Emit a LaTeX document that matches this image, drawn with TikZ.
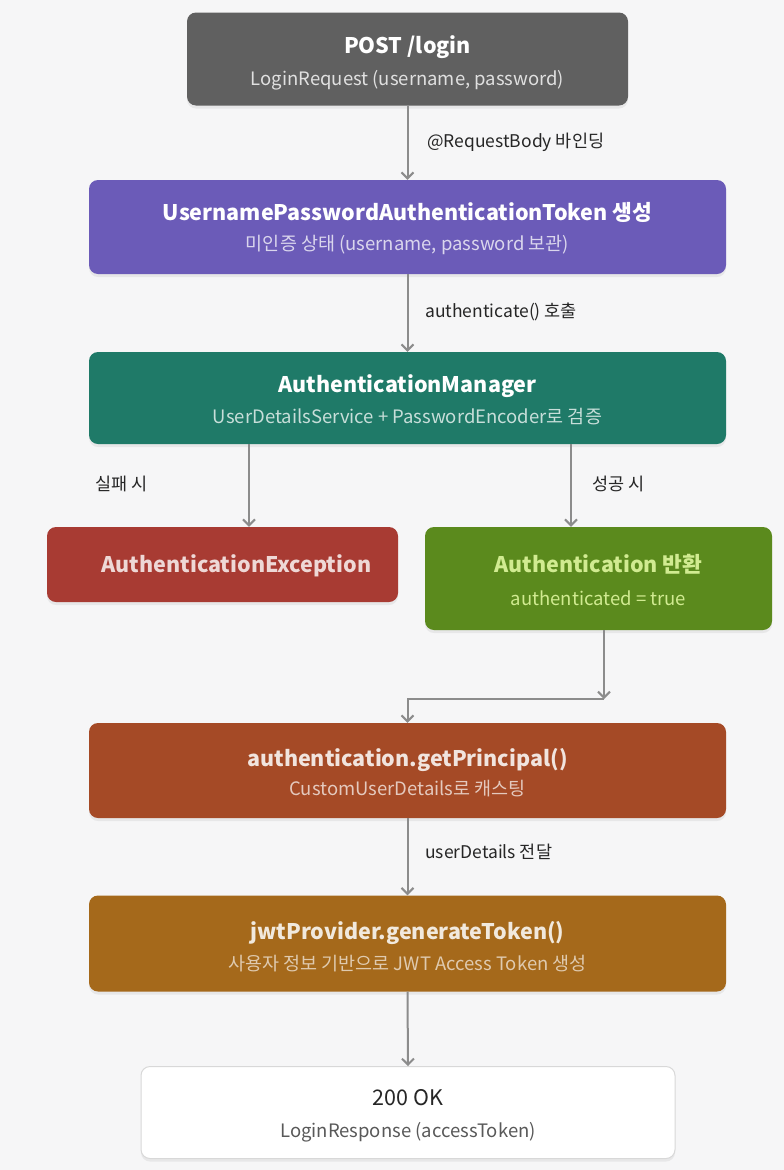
\documentclass[tikz,border=0pt]{standalone}
\usepackage{fontspec}
\setmainfont{Noto Sans CJK KR}
\usetikzlibrary{arrows.meta,shadows}
\definecolor{bg}{HTML}{F6F6F7}
\definecolor{cgray}{HTML}{606060}
\definecolor{cpurple}{HTML}{6B5BB8}
\definecolor{cteal}{HTML}{1F7A68}
\definecolor{cred}{HTML}{A83B33}
\definecolor{cgreen}{HTML}{5B8A1D}
\definecolor{crust}{HTML}{A54A26}
\definecolor{cgold}{HTML}{A5691B}
\definecolor{cline}{HTML}{8C8C8C}
\definecolor{wborder}{HTML}{D8D8D8}
\tikzset{
  box/.style={rounded corners=9pt, inner sep=0pt, draw=none,
    drop shadow={opacity=0.12, shadow xshift=0pt, shadow yshift=-3pt}},
  ttl/.style={anchor=base, inner sep=0pt, font=\fontsize{21.5}{25}\selectfont\bfseries},
  sub/.style={anchor=base, inner sep=0pt, font=\fontsize{18.5}{22}\selectfont},
  lbl/.style={anchor=base west, inner sep=0pt, font=\fontsize{17.5}{21}\selectfont, text=black!85},
  arr/.style={draw=cline, line width=2pt, -{Straight Barb[length=6pt,width=12pt,line width=2pt]}}
}
\begin{document}
\begin{tikzpicture}[x=1pt,y=-1pt]
\fill[bg] (0,0) rectangle (784,1170);
\useasboundingbox (0,0) rectangle (784,1170);

% boxes
\node[box, fill=cgray, minimum width=441pt, minimum height=93pt] (post) at (407.5,59) {};
\node[box, fill=cpurple, minimum width=637pt, minimum height=94pt] (tok) at (407.5,227) {};
\node[box, fill=cteal, minimum width=637pt, minimum height=92pt] (mgr) at (407.5,398) {};
\node[box, fill=cred, minimum width=351pt, minimum height=75pt] (exc) at (222.5,564.5) {};
\node[box, fill=cgreen, minimum width=347pt, minimum height=103pt] (auth) at (598.5,578.5) {};
\node[box, fill=crust, minimum width=637pt, minimum height=95pt] (prin) at (407.5,770.5) {};
\node[box, fill=cgold, minimum width=637pt, minimum height=96pt] (jwt) at (407.5,943.5) {};
\node[box, fill=white, draw=wborder, line width=1pt, minimum width=534pt, minimum height=92pt] (ok) at (408,1112.5) {};

% texts
\node[ttl, text=white] (postT) at (407.5,53) {POST /login};
\node[sub, text=white!88!black] (postS) at (407.5,85) {LoginRequest (username, password)};
\node[ttl, text=white] (tokT) at (407.5,220) {UsernamePasswordAuthenticationToken 생성};
\node[sub, text=cpurple!25!white] (tokS) at (407.5,250) {미인증 상태 (username, password 보관)};
\node[ttl, text=white] (mgrT) at (407.5,392) {AuthenticationManager};
\node[sub, text=cteal!25!white] (mgrS) at (407.5,423) {UserDetailsService + PasswordEncoder로 검증};
\node[ttl, text=cred!20!white] (excT) at (236.5,572) {AuthenticationException};
\node[ttl, text=yellow!60!green!45!white] (authT) at (598.5,572) {Authentication 반환};
\node[sub, text=yellow!60!green!45!white] (authS) at (598.5,605) {authenticated = true};
\node[ttl, text=crust!15!white] (prinT) at (407.5,766) {authentication.getPrincipal()};
\node[sub, text=crust!30!white] (prinS) at (407.5,795) {CustomUserDetails로 캐스팅};
\node[ttl, text=cgold!15!white] (jwtT) at (407.5,939) {jwtProvider.generateToken()};
\node[sub, text=cgold!35!white] (jwtS) at (407.5,970) {사용자 정보 기반으로 JWT Access Token 생성};
\node[ttl, text=black!85, font=\fontsize{21.5}{25}\selectfont] (okT) at (408,1105) {200 OK};
\node[sub, text=black!65] (okS) at (408,1137) {LoginResponse (accessToken)};

% connectors
\coordinate (xl) at (249,0);
\coordinate (xr) at (571,0);
\coordinate (ab) at (604,630);
\coordinate (j1) at (604,699);
\draw[arr] (post.south) -- (tok.north);
\draw[arr] (tok.south) -- (mgr.north);
\draw[arr] (mgr.south -| xl) -- (exc.north -| xl);
\draw[arr] (mgr.south -| xr) -- (auth.north -| xr);
\draw[arr] (ab) -- (j1);
\draw[arr] (j1) -| (prin.north);
\draw[arr] (prin.south) -- (jwt.north);
\draw[arr] (jwt.south) -- (ok.north);

% labels
\node[lbl] (l1) at (427,147) {@RequestBody 바인딩};
\node[lbl] (l2) at (425,317) {authenticate() 호출};
\node[lbl] (l3) at (95,490) {실패 시};
\node[lbl] (l4) at (592,490) {성공 시};
\node[lbl] (l5) at (425,858) {userDetails 전달};
\end{tikzpicture}
\end{document}
